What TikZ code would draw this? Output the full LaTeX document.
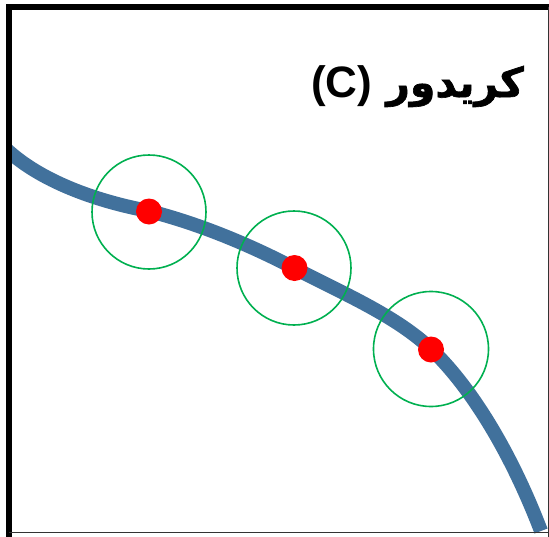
\documentclass[tikz,border=0pt]{standalone}
\usepackage{fontspec}
\setmainfont{Liberation Sans}
\newfontfamily\arabicfont[Script=Arabic,FakeBold=1.6]{DejaVu Sans}
\TeXXeTstate=1
\definecolor{roadblue}{HTML}{41719C}
\definecolor{ringgreen}{HTML}{00B050}
\definecolor{dotred}{HTML}{FF0000}
\tikzset{
  road/.style={draw=roadblue,line width=14pt,line cap=butt,line join=round},
  ring/.style={draw=ringgreen,line width=1.6pt,circle,inner sep=0pt,minimum size=114pt},
  dot/.style={circle,fill=dotred,inner sep=0pt,minimum size=26pt},
}
\begin{document}
\begin{tikzpicture}[x=1pt,y=-1pt]
\useasboundingbox (0,0) rectangle (549,536);
\clip (0,0) rectangle (549,536);
\fill[white] (0,0) rectangle (549,536);
% road
\coordinate (s) at (3,146);
\coordinate (p1) at (149,211);
\coordinate (p2) at (294,268);
\coordinate (p3) at (431,349);
\coordinate (e) at (541,531);
\begin{scope}
\clip (10,8) rectangle (549,536);
\draw[road] (s) .. controls (35,178) and (90,200) .. (p1)
  .. controls (200,224) and (250,245) .. (p2)
  .. controls (340,292) and (395,315) .. (p3)
  .. controls (470,386) and (510,450) .. (e);
\end{scope}
% rings
\node[ring] (r1) at (149,212) {};
\node[ring] (r2) at (294,268) {};
\node[ring,minimum size=115pt] (r3) at (431,349) {};
% dots
\node[dot] (d1) at (149,211.5) {};
\node[dot] (d2) at (294.5,268) {};
\node[dot] (d3) at (431,349.5) {};
% frame
\draw[black,line width=6pt] (9,540) -- (9,7) -- (555,7);
\draw[black!80,line width=1.5pt] (548.3,7) -- (548.3,540);
\draw[black!80,line width=1.5pt] (9,532.5) -- (555,532.5);
% title
\node[anchor=base west,inner sep=0pt] (title) at (311,97) {\fontsize{44}{48}\selectfont\bfseries (C)\hspace{14pt}{\fontsize{41}{48}\selectfont\arabicfont\beginR کریدور\endR}};
\end{tikzpicture}
\end{document}
